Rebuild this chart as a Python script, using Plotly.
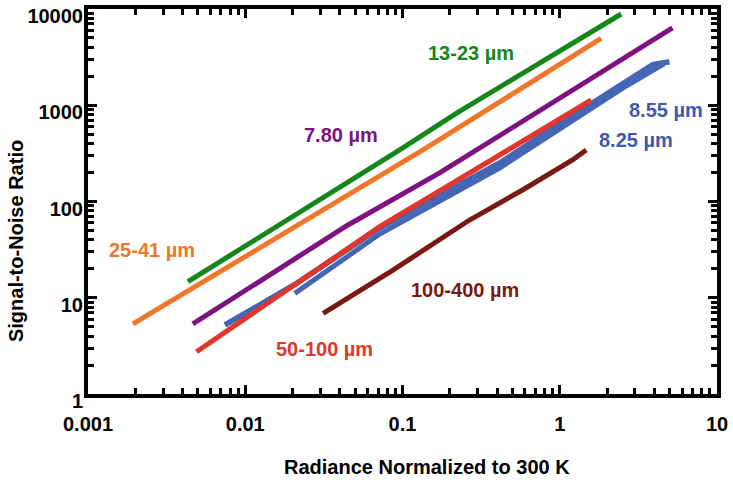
import plotly.graph_objects as go

# ---- data ----
green_x = [0.00432, 0.0960, 0.221, 2.46]
green_y = [14.7, 343, 830, 8870]

orange_x = [0.00193, 0.135, 1.835]
orange_y = [5.34, 343, 4963]

purple_x = [0.00464, 0.0442, 0.1722, 1.206, 5.21]
purple_y = [5.34, 56.0, 198, 1440, 6350]

blue855_x = [0.00742, 0.0212, 0.0716, 0.4145, 0.744, 2.646, 3.9, 4.985]
blue855_y = [5.21, 14.1, 53.0, 251, 471, 1757, 2650, 2835]

blue825_x = [0.02065, 0.0716, 0.4145, 2.646, 4.6]
blue825_y = [11.1, 45.9, 223, 1585, 2700]

red_x = [0.0049, 0.0212, 0.0716, 0.4145, 1.336, 1.585]
red_y = [2.75, 14.1, 54.7, 304, 966, 1134]

brown_x = [0.0313, 0.087, 0.267, 0.580, 1.206, 1.474]
brown_y = [6.89, 19.4, 64.2, 131.7, 270, 343]

x_tickvals = [0.001, 0.01, 0.1, 1, 10]
x_ticktext = ["0.001", "0.01", "0.1", "1", "10"]
y_tickvals = [1, 10, 100, 1000, 10000]
y_ticktext = ["1", "10", "100", "1000", "10000"]

FONT = "Liberation Sans, Arial, sans-serif"
C_GREEN = "#16861b"
C_ORANGE = "#f2762a"
C_PURPLE = "#7e1280"
C_BLUE = "#4565b5"
C_RED = "#e2352b"
C_BROWN = "#7a1912"

W, H = 733, 485
L, R, T, B = 88, 717.5, 9, 394

series = [
    (orange_x, orange_y, C_ORANGE, 5),
    (green_x, green_y, C_GREEN, 5),
    (purple_x, purple_y, C_PURPLE, 5),
    (blue825_x, blue825_y, C_BLUE, 5),
    (blue855_x, blue855_y, C_BLUE, 5.5),
    (red_x, red_y, C_RED, 5),
    (brown_x, brown_y, C_BROWN, 5),
]

fig = go.Figure()
for xs, ys, col, w in series:
    fig.add_trace(go.Scatter(x=xs, y=ys, mode="lines",
                             line=dict(color=col, width=w),
                             showlegend=False, hoverinfo="skip"))

tickfont = dict(family=FONT, size=20, color="black", weight="bold")
minor = dict(ticks="inside", ticklen=6, tickwidth=2.5, tickcolor="black",
             tickmode="linear", dtick="D1", showgrid=False)
common = dict(type="log", showgrid=False, zeroline=False, automargin=False,
              showline=True, linecolor="black", linewidth=4, mirror="ticks",
              ticks="inside", ticklen=9, tickwidth=2.5, tickcolor="black",
              tickmode="array", tickfont=tickfont, ticklabeloverflow="allow",
              minor=minor)

fig.update_layout(
    xaxis=dict(range=[-3, 1], tickvals=x_tickvals, ticktext=x_ticktext,
               ticklabelstandoff=9, **common),
    yaxis=dict(range=[0, 4], tickvals=y_tickvals, ticktext=y_ticktext,
               ticklabelstandoff=-3, ticklabelshift=7, **common),
)

def px(xp, yp):
    return (xp - L) / (R - L), (B - yp) / (B - T)

labels = [
    ("13-23 µm", 471, 53, C_GREEN),
    ("7.80 µm", 341, 134.5, C_PURPLE),
    ("25-41 µm", 152, 250, C_ORANGE),
    ("8.55 µm", 666, 110, "#3d5aab"),
    ("8.25 µm", 636, 140, "#3d5aab"),
    ("100-400 µm", 465, 290, C_BROWN),
    ("50-100 µm", 325, 349, C_RED),
]
for txt, x0, y0, col in labels:
    ax, ay = px(x0, y0)
    fig.add_annotation(x=ax, y=ay, xref="paper", yref="paper", text=txt,
                       showarrow=False, xanchor="center", yanchor="middle",
                       font=dict(family=FONT, size=20, color=col, weight="bold"))

ax, ay = px(427, 467)
fig.add_annotation(x=ax, y=ay, xref="paper", yref="paper",
                   text="Radiance Normalized to 300 K", showarrow=False,
                   xanchor="center", yanchor="middle",
                   font=dict(family=FONT, size=20, color="black", weight="bold"))
ax, ay = px(16, 241)
fig.add_annotation(x=ax, y=ay, xref="paper", yref="paper",
                   text="Signal-to-Noise Ratio", showarrow=False, textangle=-90,
                   xanchor="center", yanchor="middle",
                   font=dict(family=FONT, size=20, color="black", weight="bold"))

fig.update_layout(width=W, height=H, autosize=False,
                  margin=dict(l=L, r=W - R, t=T, b=H - B),
                  paper_bgcolor="white", plot_bgcolor="white")

fig.write_html("out.html", config={"displayModeBar": False},
               post_script="document.body.style.margin='0';"
                           "document.body.style.overflow='hidden';")
